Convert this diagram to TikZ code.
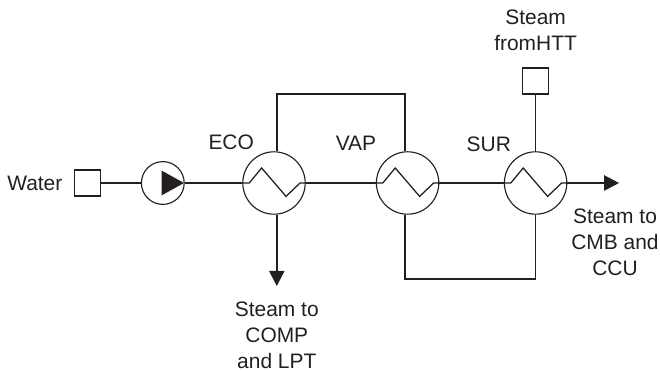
\documentclass[tikz,border=0pt]{standalone}
\usepackage{fontspec}
\setmainfont{Liberation Sans}
\usetikzlibrary{arrows.meta,calc}
\definecolor{inkline}{HTML}{231F20}
\tikzset{
    exchanger/.style={draw=inkline, circle, line width=0.8pt, minimum size=1.56cm, inner sep=0pt},
    pumpbody/.style={draw=inkline, circle, line width=0.8pt, minimum size=1.07cm, inner sep=0pt},
    portbox/.style={draw=inkline, rectangle, line width=0.8pt, minimum size=0.65cm, inner sep=0pt},
    caption/.style={align=center, text=inkline, font=\fontsize{14.9}{18.4}\selectfont, inner sep=0pt},
    pipe/.style={draw=inkline, line width=1pt},
    outflow/.style={draw=inkline, line width=1.5pt, -{Triangle[length=0.375cm,width=0.375cm]}}
}

\begin{document}
\begin{tikzpicture}
        \useasboundingbox (0,0) rectangle (16.5,9.275);

        % Equipment along the water line
        \node[portbox] (water) at (2.18,4.7) {};
        \node[pumpbody] (pump) at (4.07,4.7) {};
        \node[exchanger] (eco) at (6.85,4.7) {};
        \node[exchanger] (vap) at (10.19,4.7) {};
        \node[exchanger] (sur) at (13.39,4.7) {};
        \node[portbox] (htt) at (13.39,7.25) {};

        % Pump triangle
        \fill[inkline] ($(pump.center)+(-0.03,0.31)$) -- ($(pump.center)+(0.53,0)$) -- ($(pump.center)+(-0.03,-0.31)$) -- cycle;

        % Zigzag inside each exchanger
        \foreach \hx in {eco,vap,sur} {
            \draw[inkline, line width=0.9pt] (\hx.west) -- ++(0.175,0) -- ++(0.31,0.375) -- ++(0.61,-0.71) -- ++(0.35,0.335) -- (\hx.east);
        }

        % Free ends and corners
        \coordinate (looptop) at (10.13,6.925);
        \coordinate (loopbottom) at (10.13,2.3);
        \coordinate (ecoout) at (6.92,2.125);
        \coordinate (surout) at (15.48,4.7);

        % Water line
        \draw[pipe, line width=0.8pt] (water) -- (pump);
        \draw[pipe] (pump) -- (eco);
        \draw[pipe] (eco) -- (vap);
        \draw[pipe] (vap) -- (sur);
        \draw[outflow] (sur) -- (surout);

        % Steam loops
        \draw[pipe, line width=1.3pt] (eco.north -| ecoout) |- (looptop) -- (looptop |- vap.north);
        \draw[pipe] (loopbottom |- vap.south) -- (loopbottom) -| (sur.south);
        \draw[pipe] (htt) -- (sur.north);
        \draw[outflow] (eco.south -| ecoout) -- (ecoout);

        % Labels
        \node[caption] (lwater) at (0.87,4.7) {Water};
        \node[caption] (leco) at (5.78,5.72) {ECO};
        \node[caption] (lvap) at (8.9,5.7) {VAP};
        \node[caption] (lsur) at (12.22,5.68) {SUR};
        \node[caption] (lhtt) at (13.39,8.52) {Steam\\fromHTT};
        \node[caption] (lsurout) at (15.375,3.22) {Steam to\\CMB and\\CCU};
        \node[caption] (lecoout) at (6.92,0.89) {Steam to\\COMP\\and LPT};
    \end{tikzpicture}
\end{document}
